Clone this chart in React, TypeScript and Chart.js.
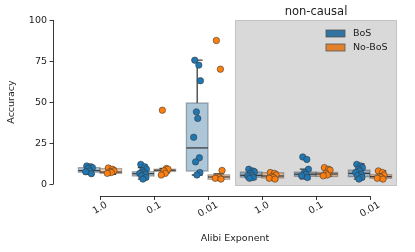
import React, { useEffect, useRef } from "react";
import { Chart, registerables } from "chart.js";

Chart.register(...registerables);

// ---- data ----
const categories = ["1.0", "0.1", "0.01", "1.0", "0.1", "0.01"];
const groupTitle = "non-causal";
const seriesNames = ["BoS", "No-BoS"];
const yTicks = [0, 25, 50, 75, 100];
const xLabel = "Alibi Exponent";
const yLabel = "Accuracy";

const bosPoints = [
  [11, 10.5, 10, 9.5, 8, 7.5, 6.3],
  [12, 10.5, 9, 8, 7, 6.5, 6, 5, 4, 3],
  [75.5, 72.5, 63, 44, 40, 28.5, 16, 13.5, 7, 5.5],
  [9, 8, 7.5, 6.5, 5.5, 5, 4, 3.5],
  [16.5, 15, 9, 7, 6, 5, 4],
  [12, 11, 10, 9, 8, 7, 6, 5, 4, 3],
];
const noBosPoints = [
  [9.8, 9, 8, 7.5, 7, 6.5],
  [45, 9.5, 9, 8, 6.5, 5.5],
  [87.5, 70, 8.3, 4.5, 4, 3.5, 3],
  [7, 6.5, 5.5, 4.5, 4, 3.5, 3],
  [10, 9, 8.5, 6.5, 5.5, 5],
  [8, 7, 5.5, 4.5, 4, 3.5, 3],
];

const bosQ1 = [7.2, 4.9, 7.9, 4.2, 4.7, 4.5];
const bosMedian = [8.2, 6.3, 22, 5.3, 6.0, 6.5];
const bosQ3 = [10, 7.5, 49.4, 7.3, 7.3, 8.5];
const bosLow = [5.9, 3, 5.5, 3, 3.2, 3];
const bosHigh = [11.2, 10, 75.5, 8.8, 9.1, 12.2];

const noBosQ1 = [6.5, 7.7, 2.9, 3.7, 4.6, 3.5];
const noBosMedian = [7.3, 8.4, 4.3, 4.9, 6.1, 4.5];
const noBosQ3 = [9.4, 9.0, 5.6, 6.9, 7.1, 5.7];
const noBosLow = [5.9, 6.8, 2.8, 2.6, 4.8, 2.9];
const noBosHigh = [9.8, 9.6, 6.2, 7.3, 9.8, 8.1];

// ---- styles ----
const jitterPattern = [-0.045, 0.03, 0.06, -0.015, 0.01, -0.065, 0.04, -0.03, 0.05, -0.005];
const dodge = 0.2;
const boxWidth = 0.4;
const FONT = "'DejaVu Sans', sans-serif";
const TEXT = "#222222";

function toPoints(vals: number[][], side: number) {
  const out: { x: number; y: number }[] = [];
  vals.forEach((arr, ci) => {
    arr.forEach((v, j) => {
      out.push({ x: ci + side * dodge + jitterPattern[j % jitterPattern.length], y: v });
    });
  });
  return out;
}

const customPlugin = {
  id: "custom",
  beforeDatasetsDraw(chart: any) {
    const { ctx, chartArea, scales } = chart;
    const xs = scales.x;
    const ys = scales.y;
    ctx.save();
    const gx0 = xs.getPixelForValue(2.5);
    const gx1 = xs.getPixelForValue(5.5);
    ctx.fillStyle = "#d9d9d9";
    ctx.fillRect(gx0, chartArea.top, gx1 - gx0, chartArea.bottom - chartArea.top);
    ctx.strokeStyle = "#c4c4c4";
    ctx.lineWidth = 1;
    ctx.strokeRect(gx0 + 0.5, chartArea.top + 0.5, gx1 - gx0 - 1, chartArea.bottom - chartArea.top - 1);

    const drawBoxes = (
      side: number, q1: number[], med: number[], q3: number[], lo: number[], hi: number[],
      fill: string, edge: string
    ) => {
      categories.forEach((_, i) => {
        const c = i + side * dodge;
        const xl = xs.getPixelForValue(c - boxWidth / 2);
        const xr = xs.getPixelForValue(c + boxWidth / 2);
        const xc = xs.getPixelForValue(c);
        const capHalf = (xr - xl) / 4;
        const yq1 = ys.getPixelForValue(q1[i]);
        const yq3 = ys.getPixelForValue(q3[i]);
        const ym = ys.getPixelForValue(med[i]);
        const ylo = ys.getPixelForValue(lo[i]);
        const yhi = ys.getPixelForValue(hi[i]);
        ctx.strokeStyle = "#3d3d3d";
        ctx.lineWidth = 1.3;
        ctx.beginPath();
        ctx.moveTo(xc, yq3);
        ctx.lineTo(xc, yhi);
        ctx.moveTo(xc, yq1);
        ctx.lineTo(xc, ylo);
        ctx.moveTo(xc - capHalf, yhi);
        ctx.lineTo(xc + capHalf, yhi);
        ctx.moveTo(xc - capHalf, ylo);
        ctx.lineTo(xc + capHalf, ylo);
        ctx.stroke();
        ctx.fillStyle = fill;
        ctx.fillRect(xl, yq3, xr - xl, yq1 - yq3);
        ctx.strokeStyle = edge;
        ctx.lineWidth = 1.3;
        ctx.strokeRect(xl, yq3, xr - xl, yq1 - yq3);
        ctx.strokeStyle = "#3d3d3d";
        ctx.lineWidth = 1.3;
        ctx.beginPath();
        ctx.moveTo(xl, ym);
        ctx.lineTo(xr, ym);
        ctx.stroke();
      });
    };
    drawBoxes(-1, bosQ1, bosMedian, bosQ3, bosLow, bosHigh, "rgba(50,116,161,0.4)", "rgba(70,80,90,0.45)");
    drawBoxes(1, noBosQ1, noBosMedian, noBosQ3, noBosLow, noBosHigh, "rgba(225,129,44,0.4)", "rgba(90,80,70,0.45)");
    ctx.restore();
  },
  afterDraw(chart: any) {
    const { ctx, chartArea, scales } = chart;
    const xs = scales.x;
    const ys = scales.y;
    ctx.save();
    ctx.strokeStyle = "#222222";
    ctx.lineWidth = 0.9;
    const spineX = chartArea.left - 20;
    const y0 = ys.getPixelForValue(yTicks[0]);
    const y1 = ys.getPixelForValue(yTicks[yTicks.length - 1]);
    ctx.beginPath();
    ctx.moveTo(spineX + 0.5, y0);
    ctx.lineTo(spineX + 0.5, y1);
    ctx.stroke();
    ctx.fillStyle = TEXT;
    ctx.font = `9.5px ${FONT}`;
    ctx.textAlign = "right";
    ctx.textBaseline = "middle";
    yTicks.forEach((t) => {
      const y = Math.round(ys.getPixelForValue(t)) + 0.5;
      ctx.beginPath();
      ctx.moveTo(spineX + 0.5, y);
      ctx.lineTo(spineX - 3.5, y);
      ctx.stroke();
      ctx.fillText(String(t), spineX - 6, y);
    });
    const spineY = chartArea.bottom + 10;
    const xa = xs.getPixelForValue(0);
    const xb = xs.getPixelForValue(categories.length - 1);
    ctx.beginPath();
    ctx.moveTo(xa, spineY + 0.5);
    ctx.lineTo(xb, spineY + 0.5);
    ctx.stroke();
    categories.forEach((lab, i) => {
      const x = Math.round(xs.getPixelForValue(i)) + 0.5;
      ctx.beginPath();
      ctx.moveTo(x, spineY);
      ctx.lineTo(x, spineY + 4);
      ctx.stroke();
      const w = ctx.measureText(lab).width;
      const ang = (30 * Math.PI) / 180;
      const H = w * Math.sin(ang) + 10 * Math.cos(ang);
      const cy = spineY + 4 + H / 2;
      ctx.save();
      ctx.translate(x - 0.5, cy);
      ctx.rotate(-ang);
      ctx.textAlign = "center";
      ctx.textBaseline = "middle";
      ctx.fillText(lab, 0, 0);
      ctx.restore();
    });
    ctx.textAlign = "center";
    ctx.textBaseline = "middle";
    ctx.fillText(xLabel, (xa + xb) / 2, 239);
    ctx.save();
    ctx.translate(12, (y0 + y1) / 2);
    ctx.rotate(-Math.PI / 2);
    ctx.fillText(yLabel, 0, 0);
    ctx.restore();
    const gx0 = xs.getPixelForValue(2.5);
    const gx1 = xs.getPixelForValue(5.5);
    ctx.font = `11.5px ${FONT}`;
    ctx.fillText(groupTitle, (gx0 + gx1) / 2, 12);
    ctx.font = `9.5px ${FONT}`;
    ctx.textAlign = "left";
    const legendColors = ["#3274a1", "#e1812c"];
    seriesNames.forEach((n, i) => {
      const ly = 30 + i * 14;
      ctx.fillStyle = legendColors[i];
      ctx.fillRect(326, ly, 19, 7);
      ctx.strokeStyle = "#555555";
      ctx.lineWidth = 0.8;
      ctx.strokeRect(326, ly, 19, 7);
      ctx.fillStyle = TEXT;
      ctx.fillText(n, 353, ly + 3.5);
    });
    ctx.restore();
  },
};

export default function App() {
  const ref = useRef<HTMLCanvasElement>(null);
  useEffect(() => {
    if (!ref.current) return;
    const chart = new Chart(ref.current, {
      type: "scatter",
      data: {
        datasets: [
          {
            label: seriesNames[0],
            data: toPoints(bosPoints, -1),
            backgroundColor: "#1f77b4",
            borderColor: "#3a3a3a",
            borderWidth: 0.6,
            pointRadius: 3.2,
          },
          {
            label: seriesNames[1],
            data: toPoints(noBosPoints, 1),
            backgroundColor: "#ff7f0e",
            borderColor: "#3a3a3a",
            borderWidth: 0.6,
            pointRadius: 3.2,
          },
        ],
      },
      options: {
        animation: false,
        responsive: false,
        events: [],
        layout: { padding: { left: 73, top: 20, right: 18, bottom: 66 } },
        plugins: { legend: { display: false }, tooltip: { enabled: false } },
        scales: {
          x: { type: "linear", min: -0.5, max: 5.5, display: false },
          y: { type: "linear", min: -1.2, max: 100, display: false },
        },
      },
      plugins: [customPlugin],
    } as any);
    return () => chart.destroy();
  }, []);
  return (
    <div style={{ position: "fixed", left: 0, top: 0, width: 415, height: 252, background: "#fff" }}>
      <canvas ref={ref} width={415} height={252} />
    </div>
  );
}
